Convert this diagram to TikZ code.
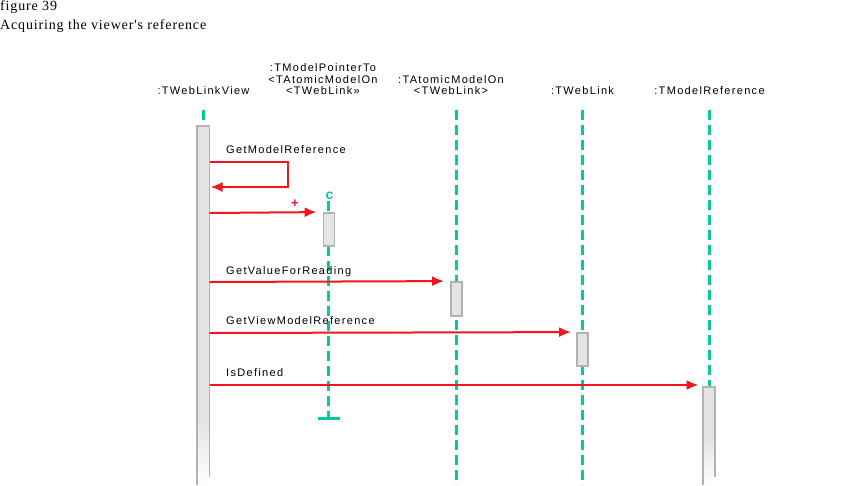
\documentclass[tikz,border=0pt]{standalone}
\usepackage{fontspec}
\setsansfont{Liberation Sans}[LetterSpace=12]
\newfontfamily\figfont{Liberation Serif}[LetterSpace=6]
\usetikzlibrary{arrows.meta, positioning}
\definecolor{lifeteal}{RGB}{0,204,153}
\definecolor{msgred}{RGB}{245,20,30}
\definecolor{edgegray}{RGB}{178,178,178}
\definecolor{boxgray}{RGB}{228,228,228}
\tikzstyle{object}=[font=\sffamily\fontsize{11}{11.5}\selectfont, align=center, inner sep=0pt, anchor=south]
\tikzstyle{lifeline}=[draw=lifeteal, line width=2.8pt, dash pattern=on 10pt off 5pt]
\tikzstyle{activation}=[rectangle, draw=edgegray, fill=boxgray, line width=1.8pt, minimum width=11pt, inner sep=0pt]
\tikzstyle{message}=[draw=msgred, line width=2pt, -{Latex[length=12pt, width=10pt]}]
\tikzstyle{msglabel}=[font=\sffamily\fontsize{11}{11.5}\selectfont, inner sep=0pt, anchor=base west]
\tikzstyle{caption}=[font=\figfont\fontsize{14}{15}\selectfont, inner sep=0pt, anchor=base west]

\begin{document}
\begin{tikzpicture}[x=1pt, y=-1pt]
    \useasboundingbox (0,0) rectangle (859,485);
    \node[caption] (fig) at (0,10) {figure 39};
    \node[caption] (title) at (0,29) {Acquiring the viewer's reference};

    % objects
    \node[object] (view) at (203.5,95) {:TWebLinkView};
    \node[object] (ptr) at (323,95) {:TModelPointerTo\\<TAtomicModelOn\\<TWebLink>>};
    \node[object] (atom) at (451,95) {:TAtomicModelOn\\<TWebLink>};
    \node[object] (link) at (582.5,95) {:TWebLink};
    \node[object] (ref) at (709.5,95) {:TModelReference};

    % lifelines
    \coordinate (view top) at (203.5,110);
    \coordinate (view bot) at (203.5,485);
    \coordinate (atom top) at (456.5,110);
    \coordinate (atom bot) at (456.5,485);
    \coordinate (link top) at (582.5,110);
    \coordinate (link bot) at (582.5,485);
    \coordinate (ref top) at (709.5,110);
    \coordinate (ref bot) at (709.5,485);
    \coordinate (ptr top) at (328.5,201);
    \coordinate (ptr end) at (328.5,418.5);
    \draw[lifeline] (view top) -- (view bot);
    \draw[lifeline] (atom top) -- (atom bot);
    \draw[lifeline] (link top) -- (link bot);
    \draw[lifeline] (ref top) -- (ref bot);
    \draw[lifeline] (ptr top) -- (ptr end);
    \draw[lifeteal, line width=2.6pt] ([xshift=-11pt]ptr end) -- ([xshift=11pt]ptr end);
    \node[font=\sffamily\bfseries\fontsize{14}{14}\selectfont, text=lifeteal, inner sep=0pt, anchor=base] (create) at (329.5,199) {c};

    % activations
    \fill[boxgray] (197,126) rectangle (209.5,485);
    \shade[top color=boxgray, bottom color=white] (197,420) rectangle (209.5,485);
    \draw[edgegray, line width=1.8pt] (197,485) |- (209.5,126) -- (209.5,477);
    \fill[boxgray] (703,387) rectangle (715,485);
    \shade[top color=boxgray, bottom color=white] (703,440) rectangle (715,485);
    \draw[edgegray, line width=1.8pt] (703,485) |- (715,387) -- (715,477);
    \node[activation, minimum height=33pt] (ptrbox) at (329,229.5) {};
    \node[activation, minimum height=34pt] (atombox) at (456.5,299) {};
    \node[activation, minimum height=33pt] (linkbox) at (582.5,349.5) {};

    % messages
    \coordinate (self a) at (209.5,162);
    \coordinate (self b) at (288,162);
    \coordinate (self c) at (288,187);
    \coordinate (self d) at (210.5,187);
    \draw[message] (self a) -- (self b) -- (self c) -- (self d);
    \node[msglabel] (m1) at (226,153) {GetModelReference};
    \draw[message] (209.5,213) -- ([xshift=-6pt]ptrbox.north west);
    \node[font=\sffamily\bfseries\fontsize{13}{13}\selectfont, text=msgred, inner sep=0pt] (plus) at (295,203.5) {+};
    \draw[message] (209.5,282) -- ([xshift=-6pt]atombox.north west);
    \node[msglabel] (m2) at (226,274) {GetValueForReading};
    \draw[message] (209.5,333) -- ([xshift=-5pt]linkbox.north west);
    \node[msglabel] (m3) at (226,324) {GetViewModelReference};
    \draw[message] (209.5,385) -- (698.5,385);
    \node[msglabel] (m4) at (226,376) {IsDefined};
\end{tikzpicture}
\end{document}
